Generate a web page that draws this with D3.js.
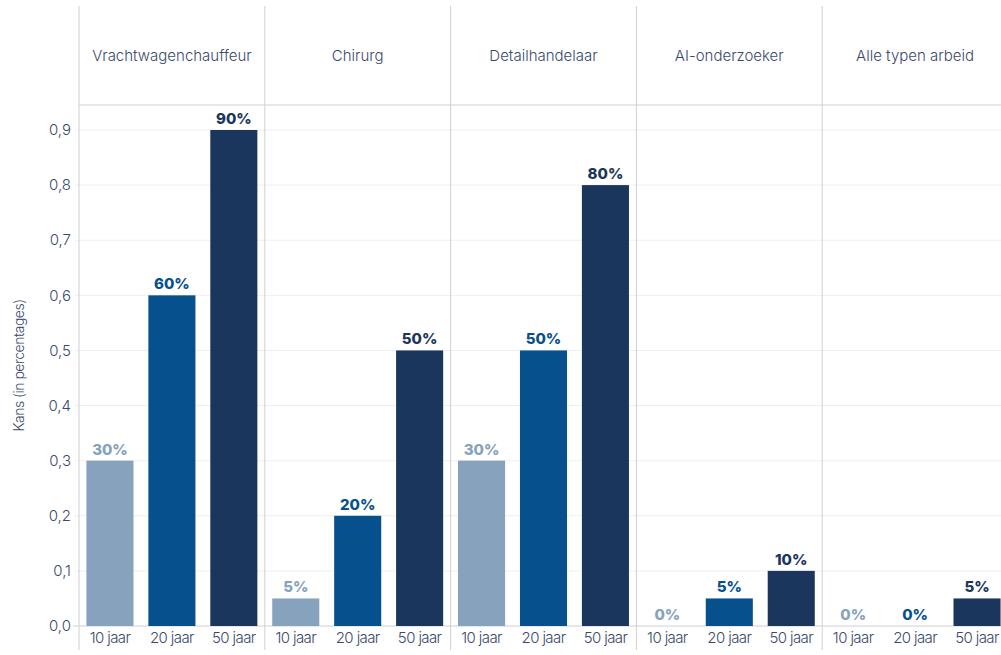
<!DOCTYPE html>
<html>
<head>
<meta charset="utf-8">
<script src="https://cdn.jsdelivr.net/npm/d3@7"></script>
<style>
  body { margin: 0; background: #fff; }
  svg { display: block; font-family: Inter, "Noto Sans", sans-serif; }
</style>
</head>
<body>
<svg id="chart" width="1001" height="655"></svg>
<script>
const jobs = ["Vrachtwagenchauffeur", "Chirurg", "Detailhandelaar", "AI-onderzoeker", "Alle typen arbeid"];
const horizons = ["10 jaar", "20 jaar", "50 jaar"];
const chance10 = [0.30, 0.05, 0.30, 0.00, 0.00];
const chance20 = [0.60, 0.20, 0.50, 0.05, 0.00];
const chance50 = [0.90, 0.50, 0.80, 0.10, 0.05];
const yTicks = [0, 0.1, 0.2, 0.3, 0.4, 0.5, 0.6, 0.7, 0.8, 0.9];

const colors = { "10 jaar": "#87a2bd", "20 jaar": "#07508e", "50 jaar": "#1b365d" };
const textCol = "#3b4a6b";
const lineCol = "#d0d0d4";

const rows = jobs.map((j, i) => ({
    job: j,
    vals: [chance10[i], chance20[i], chance50[i]].map((v, k) => ({ h: horizons[k], v: v }))
}));

const mLeft = 79, mRight = 1008, mTop = 6, headerBottom = 105, plotBottom = 626, axisBottom = 650;

const svg = d3.select("#chart");

const x = d3.scaleBand().domain(jobs).range([mLeft, mRight]);
const xi = d3.scaleBand().domain(horizons).range([0, x.bandwidth()]).paddingInner(0.24).paddingOuter(0.12);
const y = d3.scaleLinear().domain([0, 0.9]).range([plotBottom, 130]);

// gridlines
svg.append("g").selectAll("line")
    .data(yTicks.slice(1))
    .join("line")
    .attr("x1", mLeft - 4).attr("x2", mRight)
    .attr("y1", d => y(d)).attr("y2", d => y(d))
    .attr("stroke", "#efeff1");

// y axis labels
svg.append("g").selectAll("text")
    .data(yTicks)
    .join("text")
    .attr("x", 71).attr("y", d => y(d))
    .attr("dy", "0.35em")
    .attr("text-anchor", "end")
    .attr("font-size", 15)
    .attr("font-weight", 300)
    .attr("fill", textCol)
    .text(d => d3.format(".1f")(d).replace(".", ","));

svg.append("text")
    .attr("transform", `translate(24, ${(headerBottom + plotBottom) / 2}) rotate(-90)`)
    .attr("text-anchor", "middle")
    .attr("font-size", 14)
    .attr("font-weight", 300)
    .attr("letter-spacing", "-0.5px")
    .attr("fill", textCol)
    .text("Kans (in percentages)");

// header line and base line
svg.append("line").attr("x1", mLeft).attr("x2", mRight).attr("y1", headerBottom).attr("y2", headerBottom).attr("stroke", lineCol);
svg.append("line").attr("x1", mLeft - 6).attr("x2", mRight).attr("y1", plotBottom).attr("y2", plotBottom).attr("stroke", lineCol);

// panel dividers
svg.append("g").selectAll("line")
    .data(jobs)
    .join("line")
    .attr("x1", d => x(d)).attr("x2", d => x(d))
    .attr("y1", mTop).attr("y2", axisBottom)
    .attr("stroke", lineCol);

const panel = svg.append("g").selectAll("g")
    .data(rows)
    .join("g")
    .attr("transform", d => `translate(${x(d.job)},0)`);

panel.append("text")
    .attr("x", x.bandwidth() / 2).attr("y", 56)
    .attr("dy", "0.35em")
    .attr("text-anchor", "middle")
    .attr("font-size", 15)
    .attr("font-weight", 300)
    .attr("fill", textCol)
    .text(d => d.job);

panel.selectAll("rect")
    .data(d => d.vals)
    .join("rect")
    .attr("x", d => xi(d.h))
    .attr("width", xi.bandwidth())
    .attr("y", d => y(d.v))
    .attr("height", d => y(0) - y(d.v))
    .attr("fill", d => colors[d.h]);

panel.selectAll(".val")
    .data(d => d.vals)
    .join("text")
    .classed("val", true)
    .attr("x", d => xi(d.h) + xi.bandwidth() / 2)
    .attr("y", d => y(d.v) - 6)
    .attr("text-anchor", "middle")
    .attr("font-size", 15)
    .attr("font-weight", 800)
    .attr("fill", d => colors[d.h])
    .text(d => Math.round(d.v * 100) + "%");

panel.selectAll(".tick")
    .data(d => d.vals)
    .join("text")
    .classed("tick", true)
    .attr("x", d => xi(d.h) + xi.bandwidth() / 2)
    .attr("y", 638)
    .attr("dy", "0.35em")
    .attr("text-anchor", "middle")
    .attr("font-size", 15)
    .attr("font-weight", 300)
    .attr("letter-spacing", "-0.6px")
    .attr("fill", textCol)
    .text(d => d.h);
</script>
</body>
</html>
